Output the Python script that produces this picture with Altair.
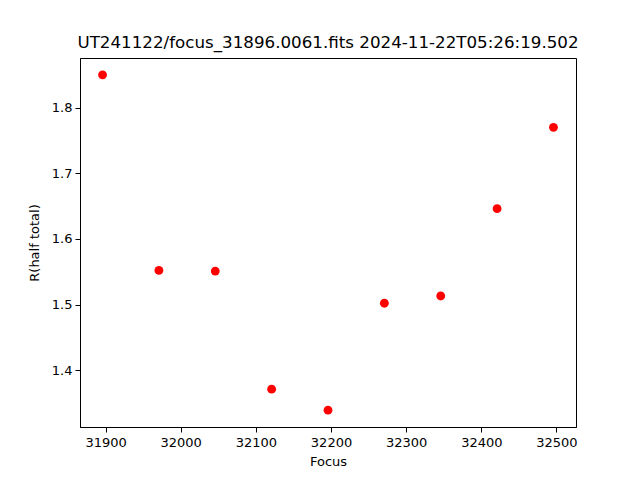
import altair as alt
import pandas as pd

focus = [31896, 31971, 32046, 32121, 32196, 32271, 32346, 32421, 32496]
rhalf = [1.850, 1.552, 1.551, 1.371, 1.339, 1.502, 1.513, 1.646, 1.770]
x_ticks = [31900, 32000, 32100, 32200, 32300, 32400, 32500]
y_ticks = [1.4, 1.5, 1.6, 1.7, 1.8]

df = pd.DataFrame({"Focus": focus, "R": rhalf})

font = "DejaVu Sans"

chart = alt.Chart(df).mark_circle(color="#ff0000", opacity=1, size=78).encode(
    x=alt.X("Focus:Q", scale=alt.Scale(domain=[31866, 32526], nice=False, zero=False),
            axis=alt.Axis(values=x_ticks, title="Focus", grid=False, format="d",
                          tickSize=5, tickColor="black", domainColor="black",
                          labelFont=font, labelFontSize=13, labelColor="black",
                          titleFont=font, titleFontSize=13, titleFontWeight="normal",
                          titleColor="black", labelPadding=4, titlePadding=6)),
    y=alt.Y("R:Q", scale=alt.Scale(domain=[1.3134, 1.8756], nice=False, zero=False),
            axis=alt.Axis(values=y_ticks, title="R(half total)", grid=False, format=".1f",
                          tickSize=5, tickColor="black", domainColor="black",
                          labelFont=font, labelFontSize=13, labelColor="black",
                          titleFont=font, titleFontSize=13, titleFontWeight="normal",
                          titleColor="black", labelPadding=3, titlePadding=10)),
).properties(
    width=496, height=369,
    title=alt.TitleParams("UT241122/focus_31896.0061.fits 2024-11-22T05:26:19.502",
                          font=font, fontSize=16.7, fontWeight="normal", color="black",
                          anchor="middle", offset=6),
    autosize=alt.AutoSizeParams(type="none"),
    padding={"left": 72, "top": 50, "right": 56, "bottom": 45},
).configure_view(stroke="black", strokeWidth=1)

chart.save("out.html", embed_options={"renderer": "svg", "actions": False})
